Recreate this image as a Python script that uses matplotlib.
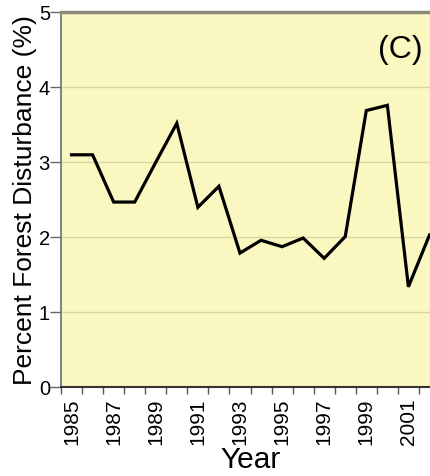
import matplotlib
matplotlib.use("Agg")
import matplotlib.pyplot as plt
from matplotlib.ticker import FixedLocator

years = [1985, 1986, 1987, 1988, 1989, 1990, 1991, 1992, 1993, 1994, 1995,
         1996, 1997, 1998, 1999, 2000, 2001, 2002]
disturbance = [3.10, 3.10, 2.47, 2.47, 3.00, 3.52, 2.40, 2.68, 1.79, 1.96, 1.875,
               1.99, 1.72, 2.01, 3.69, 3.76, 1.34, 2.03]
year_labels = [1985, 1987, 1989, 1991, 1993, 1995, 1997, 1999, 2001]
y_ticks = [0, 1, 2, 3, 4, 5]

plt.rcParams['font.family'] = ['Liberation Sans', 'DejaVu Sans']

fig = plt.figure(figsize=(4.31, 4.76), dpi=100)
ax = fig.add_axes([61/431, 88.7/476, 379/431, 375/476])
ax.set_facecolor('#FBF7C0')

ax.plot(years, disturbance, color='black', lw=2.3, solid_joinstyle='miter', zorder=3)

ax.set_xlim(1984.5, 2002.5)
ax.set_ylim(0, 5)
ax.set_yticks(y_ticks)
ax.yaxis.grid(True, color='#DCD6A6', lw=1.0)
ax.set_axisbelow(True)

ax.xaxis.set_major_locator(FixedLocator(year_labels))
ax.set_xticklabels([str(y) for y in year_labels], rotation=90, fontsize=15)
ax.xaxis.set_minor_locator(FixedLocator([y - 0.5 for y in years] + [years[-1] + 0.5]))
ax.tick_params(axis='x', which='major', length=0, pad=8)
ax.tick_params(axis='x', which='minor', length=5, width=1, color='#555555')
ax.tick_params(axis='y', length=8, width=1, color='#666666', pad=0, labelsize=14.5)

ax.spines['left'].set_color('#777777')
ax.spines['left'].set_linewidth(1.3)
ax.spines['bottom'].set_color('#333333')
ax.spines['bottom'].set_linewidth(1.5)
ax.spines['top'].set_color('#8C8A76')
ax.spines['top'].set_linewidth(2.5)
ax.spines['right'].set_visible(False)

ax.set_ylabel('Percent Forest Disturbance (%)', fontsize=19, labelpad=1)
ax.set_xlabel('Year', fontsize=21.5, labelpad=0.5)

ax.text(0.955, 0.94, '(C)', transform=ax.transAxes, fontsize=23,
        ha='right', va='top')

fig.savefig('out.png', dpi=100)
